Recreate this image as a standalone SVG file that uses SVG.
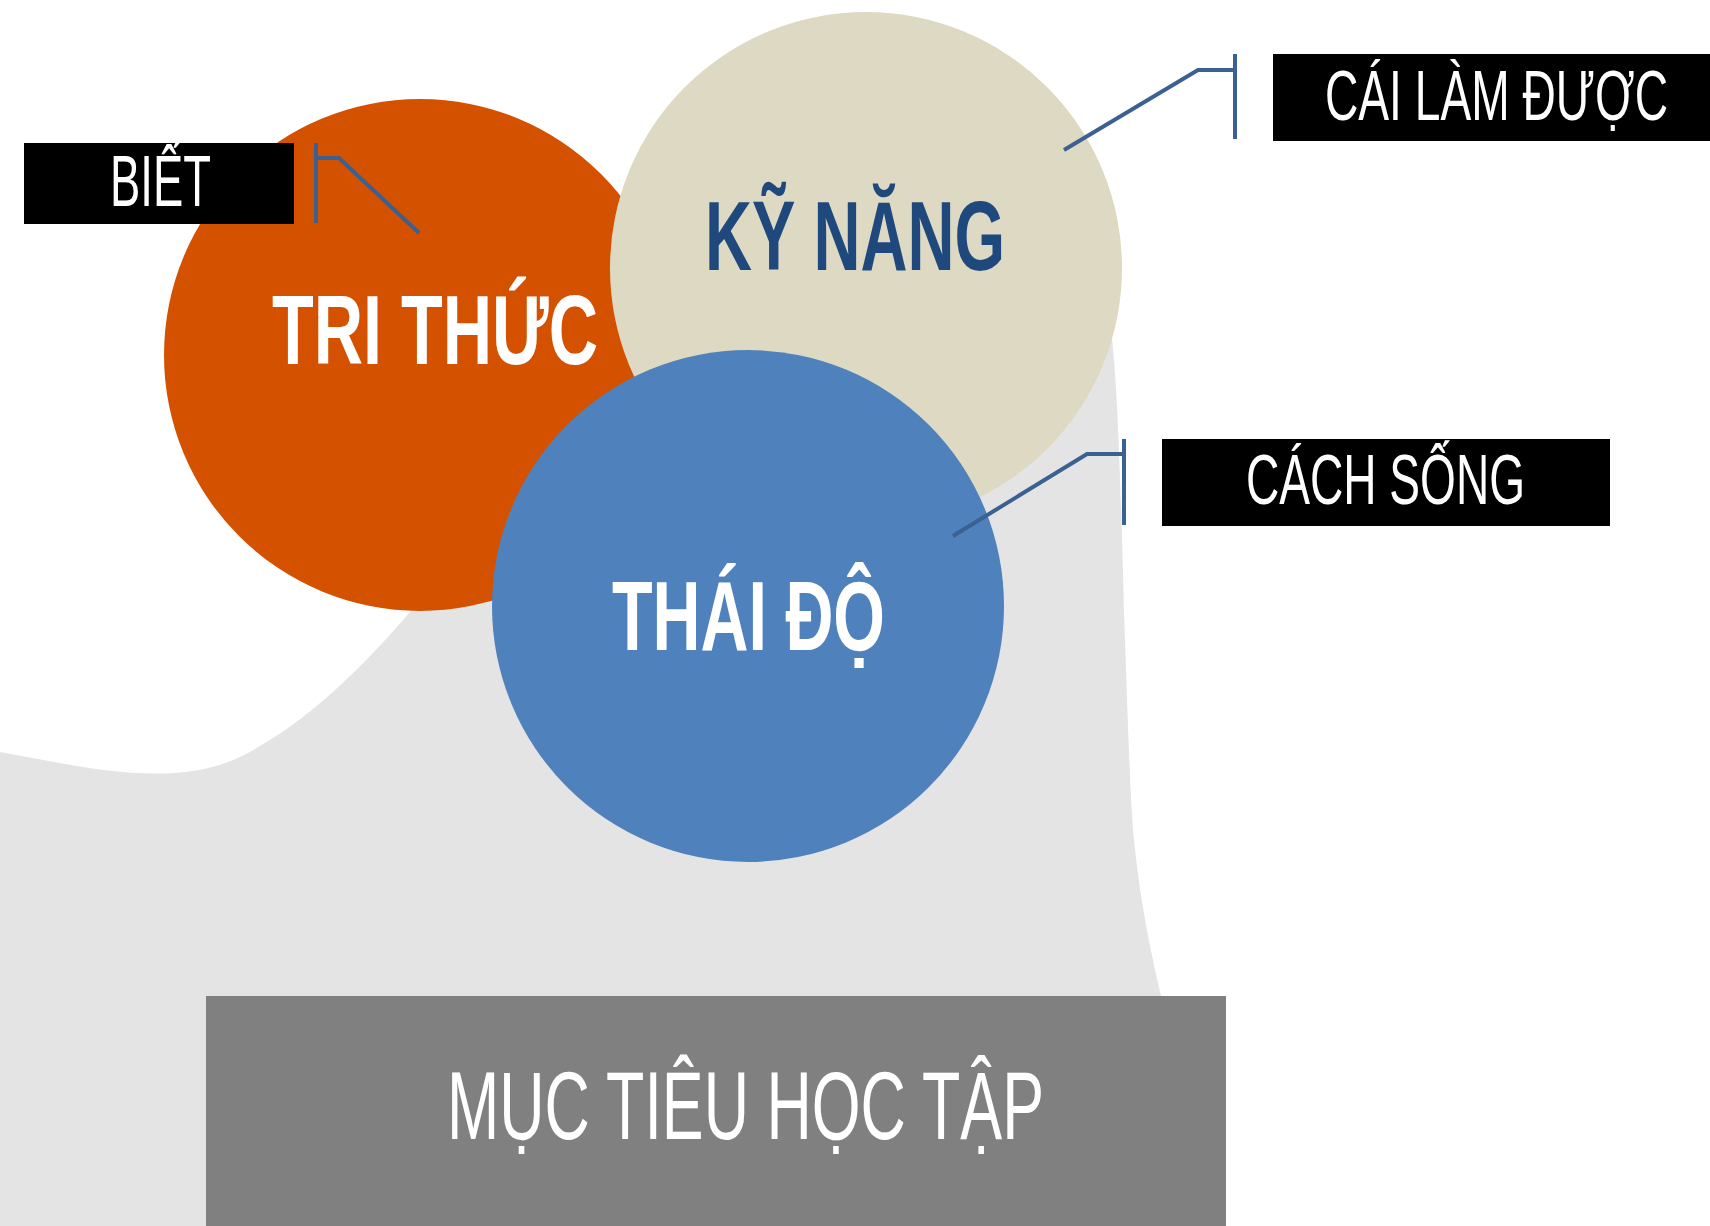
<svg xmlns="http://www.w3.org/2000/svg" width="1710" height="1226" viewBox="0 0 1710 1226">
<style>
.bg{fill:#e4e4e4}
.title{font-family:"Liberation Sans","DejaVu Sans",sans-serif;font-weight:bold;font-size:98px}
.lab{font-family:"Liberation Sans","DejaVu Sans",sans-serif;font-weight:normal;fill:#ffffff}
.conn{fill:none;stroke:#3a6191;stroke-width:4}
.lbox{fill:#000000}
</style>
<rect width="1710" height="1226" fill="#ffffff"/>
<path class="bg" d="M0,752 C80,766 170,790 240,757 C310,722 370,660 420,600 L420,500 L700,330 L1105,300 C1116,330 1120,450 1124,613 C1128,720 1130,800 1134,840 C1140,900 1150,950 1162,1000 L1170,1226 L0,1226 Z"/>
<g id="tri-thuc">
<circle cx="420" cy="355" r="256" fill="#d45100"/>
</g>
<g id="ky-nang">
<circle cx="866" cy="268" r="256" fill="#ddd9c3"/>
<text class="title" x="705" y="270" fill="#1f497d" textLength="300" lengthAdjust="spacingAndGlyphs">KỸ NĂNG</text>
</g>
<g id="tri-thuc-label">
<text class="title" x="272" y="364" fill="#ffffff" textLength="326" lengthAdjust="spacingAndGlyphs">TRI THỨC</text>
</g>
<g id="thai-do">
<circle cx="748" cy="606" r="256" fill="#4f81bd"/>
<text class="title" x="612" y="650" fill="#ffffff" textLength="273" lengthAdjust="spacingAndGlyphs">THÁI ĐỘ</text>
</g>
<g id="muc-tieu">
<rect x="206" y="996" width="1020" height="230" fill="#808080"/>
<text class="lab" x="447" y="1139" font-size="96" textLength="597" lengthAdjust="spacingAndGlyphs">MỤC TIÊU HỌC TẬP</text>
</g>
<g id="biet">
<rect class="lbox" x="24" y="143" width="270" height="81"/>
<text class="lab" x="110" y="206" font-size="73" textLength="101" lengthAdjust="spacingAndGlyphs">BIẾT</text>
</g>
<g id="cai-lam-duoc">
<rect class="lbox" x="1273" y="54" width="437" height="87"/>
<text class="lab" x="1325" y="120" font-size="70" textLength="343" lengthAdjust="spacingAndGlyphs">CÁI LÀM ĐƯỢC</text>
</g>
<g id="cach-song">
<rect class="lbox" x="1162" y="439" width="448" height="87"/>
<text class="lab" x="1246" y="504" font-size="70" textLength="279" lengthAdjust="spacingAndGlyphs">CÁCH SỐNG</text>
</g>
<g id="connectors">
<path class="conn" d="M316,143 V223 M316,158 H339 L419,233"/>
<path class="conn" d="M1235,54 V139 M1235,70 H1198 L1064,150"/>
<path class="conn" d="M1124,439 V525 M1124,454 H1087 L953,536"/>
</g>
</svg>
